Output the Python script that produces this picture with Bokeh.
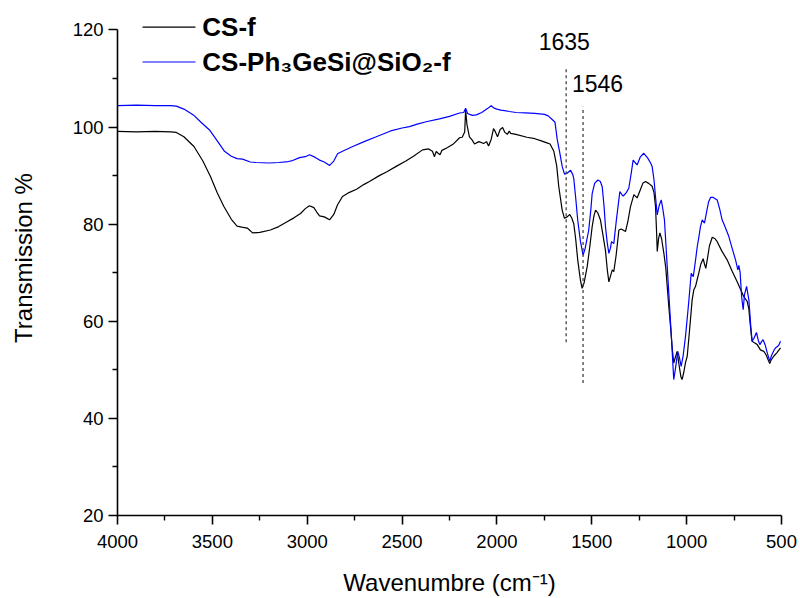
from bokeh.plotting import figure
from bokeh.models import Range1d, FixedTicker
from bokeh.core.properties import value
from bokeh.embed import file_html
from bokeh.resources import INLINE

# ---------------- data ----------------
cs_wn = [4000, 3900, 3800, 3720, 3690, 3650, 3597, 3550, 3510, 3475, 3440, 3400, 3370, 3345, 3316,
         3288, 3250, 3194, 3150, 3106, 3070, 3035, 3010, 2988, 2965, 2950, 2935, 2910, 2882, 2860,
         2840, 2814, 2780, 2740, 2700, 2672, 2620, 2580, 2531, 2480, 2440, 2392, 2360, 2340, 2329,
         2320, 2310, 2300, 2290, 2260, 2230, 2197, 2183, 2170, 2165, 2158, 2145, 2130, 2118, 2095,
         2070, 2055, 2044, 2030, 2018, 2008, 1997, 1983, 1970, 1958, 1945, 1935, 1928, 1900, 1842,
         1800, 1770, 1740, 1720, 1700, 1685, 1674, 1656, 1644, 1630, 1616, 1605, 1595, 1585, 1574,
         1560, 1551, 1540, 1524, 1510, 1498, 1488, 1480, 1468, 1454, 1440, 1428, 1418, 1410, 1400,
         1392, 1384, 1372, 1357, 1345, 1322, 1310, 1296, 1278, 1261, 1245, 1230, 1217, 1200, 1182,
         1172, 1164, 1158, 1155, 1148, 1141, 1132, 1120, 1110, 1100, 1094, 1085, 1075, 1068, 1060,
         1050, 1040, 1030, 1024, 1015, 1006, 997, 985, 971, 962, 953, 945, 936, 925, 913,
         906, 899, 890, 880, 865, 850, 839, 815, 786, 760, 733, 715, 699, 681, 672,
         667, 660, 655, 640, 628, 611, 593, 580, 570, 562, 555, 541, 525, 505]
cs_t = [99.1, 99.0, 99.1, 99.0, 98.9, 98.0, 96.0, 93.0, 89.8, 86.5, 83.7, 81.0, 79.6, 79.4, 79.2,
        78.2, 78.3, 78.8, 79.5, 80.5, 81.3, 82.2, 83.2, 83.8, 83.4, 82.5, 81.7, 81.5, 80.9, 82.0,
        84.0, 85.7, 86.5, 87.2, 88.2, 88.8, 90.0, 90.8, 91.9, 93.0, 94.0, 95.3, 95.5, 95.0, 93.9,
        95.0, 94.6, 94.3, 95.2, 95.8, 96.5, 97.8, 97.9, 99.0, 103.5, 100.5, 98.0, 97.3, 96.5, 97.0,
        96.6, 97.0, 96.1, 97.5, 99.7, 99.0, 98.0, 99.5, 99.9, 98.9, 98.5, 99.2, 98.7, 98.5, 97.9,
        97.6, 97.2, 96.8, 96.5, 95.0, 92.0, 87.7, 82.9, 81.2, 81.5, 82.0, 81.2, 80.1, 77.0, 72.6,
        68.5, 66.8, 68.0, 71.3, 75.5, 79.5, 81.8, 82.9, 82.3, 80.8, 77.5, 74.6, 70.5, 68.1, 69.5,
        70.6, 70.2, 73.5, 78.8, 79.0, 78.5, 80.5, 83.6, 86.1, 85.4, 87.0, 88.5, 88.8, 88.4, 87.8,
        86.5, 83.6, 78.0, 74.4, 77.0, 78.2, 77.0, 74.0, 71.0, 66.0, 63.0, 59.0, 54.0, 51.4, 52.5,
        53.8, 51.0, 48.5, 48.0, 49.5, 51.5, 52.8, 58.0, 64.4, 66.5, 67.2, 68.5, 69.9, 71.8, 72.9,
        71.8, 70.9, 73.0, 75.5, 77.3, 77.0, 76.4, 74.5, 72.6, 70.3, 68.1, 66.5, 65.1, 64.1, 62.5,
        60.3, 57.5, 55.9, 55.5, 55.2, 54.1, 53.8, 53.0, 52.0, 51.3, 52.0, 52.8, 53.5, 54.5]

ge_wn = [4000, 3900, 3800, 3720, 3690, 3650, 3600, 3560, 3515, 3475, 3436, 3400, 3370, 3341, 3300,
         3269, 3200, 3150, 3100, 3077, 3040, 3010, 2988, 2960, 2935, 2910, 2882, 2860, 2840, 2814,
         2760, 2700, 2636, 2560, 2500, 2461, 2420, 2373, 2303, 2250, 2197, 2175, 2165, 2155, 2130,
         2109, 2080, 2050, 2030, 2015, 2000, 1980, 1960, 1934, 1900, 1850, 1800, 1749, 1730, 1710,
         1694, 1682, 1670, 1656, 1644, 1630, 1612, 1600, 1595, 1585, 1574, 1560, 1546, 1535, 1516,
         1505, 1498, 1485, 1468, 1455, 1445, 1435, 1428, 1418, 1410, 1402, 1396, 1384, 1370, 1352,
         1340, 1334, 1318, 1305, 1292, 1282, 1270, 1261, 1245, 1226, 1205, 1190, 1182, 1172, 1165,
         1155, 1145, 1134, 1125, 1117, 1105, 1094, 1080, 1068, 1058, 1047, 1038, 1029, 1018, 1006,
         990, 976, 965, 955, 944, 935, 927, 918, 906, 895, 885, 874, 860, 839, 825,
         813, 795, 778, 760, 742, 730, 725, 718, 710, 702, 695, 684, 672, 662, 655,
         645, 632, 622, 614, 605, 597, 585, 575, 562, 552, 540, 532, 515, 505]
ge_t = [104.4, 104.5, 104.4, 104.4, 104.3, 103.7, 102.5, 101.0, 99.4, 97.2, 95.0, 94.0, 93.5, 93.4, 92.8,
        92.7, 92.6, 92.7, 92.9, 93.1, 93.7, 93.9, 94.3, 93.8, 93.2, 92.8, 92.1, 93.0, 94.5, 95.0,
        96.0, 97.0, 98.0, 99.2, 99.8, 100.1, 100.6, 101.1, 101.7, 102.2, 102.9, 103.0, 103.9, 102.8, 102.4,
        102.5, 103.0, 103.8, 104.4, 103.9, 103.7, 103.5, 103.4, 103.2, 103.0, 102.9, 102.8, 102.6, 102.3, 101.6,
        101.0, 97.4, 95.0, 91.9, 90.3, 90.5, 91.1, 90.2, 89.4, 85.5, 80.8, 76.5, 73.6, 75.0, 78.8,
        83.0, 86.3, 88.4, 89.1, 88.8, 87.7, 83.5, 79.5, 76.0, 74.0, 75.0, 76.4, 76.0, 81.0, 86.7,
        86.0, 85.8, 86.5, 87.4, 90.5, 93.2, 92.6, 92.2, 93.8, 94.6, 93.6, 92.6, 91.9, 89.1, 86.0,
        81.9, 83.8, 85.0, 83.0, 80.9, 73.0, 65.8, 56.5, 48.0, 50.5, 53.8, 52.5, 50.7, 53.0, 56.9,
        63.5, 69.9, 69.2, 72.0, 75.4, 77.5, 79.5, 80.9, 80.2, 82.5, 84.5, 85.5, 85.5, 85.0, 83.0,
        80.9, 79.2, 77.5, 75.0, 72.6, 70.6, 71.5, 70.0, 65.0, 62.4, 65.5, 67.2, 64.4, 59.0, 55.9,
        56.5, 57.7, 56.0, 55.2, 55.8, 56.2, 55.0, 53.5, 51.8, 53.0, 54.0, 54.5, 55.0, 55.9]

series_labels = ["CS-f", "CS-Ph\u2083GeSi@SiO\u2082-f"]
series_colors = ["#000000", "#0000ff"]

x_ticks = [4000, 3500, 3000, 2500, 2000, 1500, 1000, 500]
x_minor = [3750, 3250, 2750, 2250, 1750, 1250, 750]
y_ticks = [20, 40, 60, 80, 100, 120]
y_minor = [30, 50, 70, 90, 110]

peak_wn = [1635, 1546]
peak_line_bottom = [55.7, 47.3]
peak_line_top = [112.4, 104.2]
peak_text = ["1635", "1546"]
peak_text_x = [1645, 1470]
peak_text_y = [117.6, 109.0]

# legend placement (axis units), upper-left corner above the 120 tick
legend_key_x0 = 3868
legend_key_x1 = 3589
legend_text_x = 3553
legend_row_y = [120.6, 113.4]

FONT = "Liberation Sans"

# frame spans the full top of the canvas so the legend can sit above the 120 tick;
# the y axis itself is bounded to 20..120
y_top = 120 + 29.5 * 100 / 486.5

p = figure(width=800, height=598, x_range=Range1d(4000, 500), y_range=Range1d(20, y_top),
           output_backend="svg", toolbar_location=None,
           min_border_left=117, min_border_right=19, min_border_top=0, min_border_bottom=82)
p.outline_line_color = None
p.xgrid.visible = False
p.ygrid.visible = False
p.background_fill_color = "white"
p.border_fill_color = "white"

p.line(cs_wn, cs_t, line_color=series_colors[0], line_width=1.2)
p.line(ge_wn, ge_t, line_color=series_colors[1], line_width=1.2)

# legend (keys + labels)
p.segment(x0=[legend_key_x0] * 2, y0=legend_row_y, x1=[legend_key_x1] * 2, y1=legend_row_y,
          line_color=series_colors, line_width=1.2)
p.text(x=[legend_text_x] * 2, y=legend_row_y, text=series_labels, text_align="left",
       text_baseline="middle", text_font=value(FONT), text_font_size="26px",
       text_font_style="bold", text_color="black")

# peak markers
p.segment(x0=peak_wn, y0=peak_line_bottom, x1=peak_wn, y1=peak_line_top,
          line_color="#444444", line_width=1.3, line_dash="3 3")
p.text(x=peak_text_x, y=peak_text_y, text=peak_text, text_align="center", text_baseline="middle",
       text_font=value(FONT), text_font_size="23px", text_color="black")

for ax, ticks, minor in ((p.xaxis[0], x_ticks, x_minor), (p.yaxis[0], y_ticks, y_minor)):
    ax.ticker = FixedTicker(ticks=ticks, minor_ticks=minor)
    ax.axis_line_width = 1.6
    ax.axis_line_color = "black"
    ax.major_tick_line_color = "black"
    ax.major_tick_line_width = 1.6
    ax.minor_tick_line_color = "black"
    ax.minor_tick_line_width = 1.4
    ax.major_tick_in = 0
    ax.major_tick_out = 9
    ax.minor_tick_in = 0
    ax.minor_tick_out = 5
    ax.major_label_text_font = FONT
    ax.major_label_text_font_size = "18.5px"
    ax.major_label_text_color = "black"
    ax.axis_label_text_font = FONT
    ax.axis_label_text_font_size = "24px"
    ax.axis_label_text_font_style = "normal"
    ax.axis_label_text_color = "black"

p.yaxis.bounds = (y_ticks[0], y_ticks[-1])
p.xaxis.axis_label = "Wavenumbre (cm\u207b\u00b9)"
p.yaxis.axis_label = "Transmission %"
p.xaxis.major_label_standoff = 10
p.yaxis.major_label_standoff = 5
p.xaxis.axis_label_standoff = 18
p.yaxis.axis_label_standoff = 33

open("out.html", "w").write(file_html(p, INLINE))
